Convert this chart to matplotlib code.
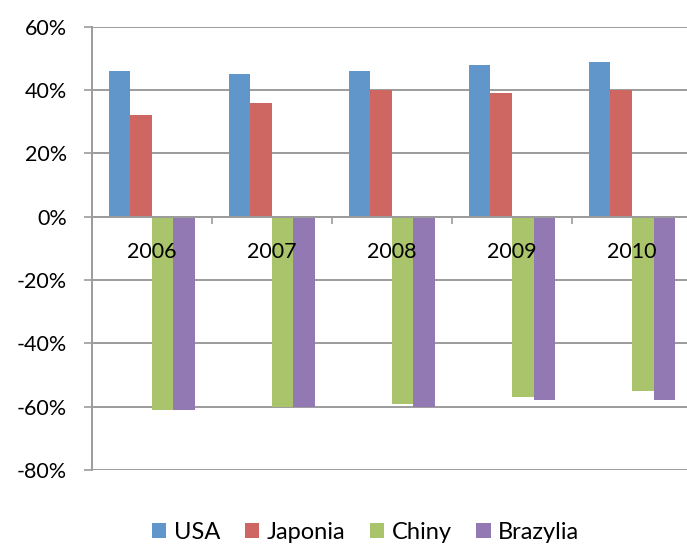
from matplotlib import pyplot as plt
from matplotlib.ticker import FixedLocator, PercentFormatter
import numpy as np

plt.rcParams['font.family'] = ['Lato', 'DejaVu Sans']
plt.rcParams['axes.unicode_minus'] = False

years = ["2006", "2007", "2008", "2009", "2010"]
usa = [46, 45, 46, 48, 49]
japonia = [32, 36, 40, 39, 40]
chiny = [-61, -60, -59, -57, -55]
brazylia = [-61, -60, -60, -58, -58]

series = [
    ("USA", usa, "#6096C9"),
    ("Japonia", japonia, "#CE6661"),
    ("Chiny", chiny, "#AAC46B"),
    ("Brazylia", brazylia, "#9279B3"),
]

GRID = "#9c9c9c"
W = 0.18
FS = 15.5

fig = plt.figure(figsize=(6.87, 5.45), dpi=100)
ax = fig.add_axes([0.1335, 0.1376, 0.8738, 0.8134])

x = np.arange(len(years))
for i, (name, vals, col) in enumerate(series):
    ax.bar(x + (i - 1.5) * W, vals, W, color=col, label=name, zorder=2)

ax.set_xlim(-0.5, len(years) - 0.5)
ax.set_ylim(-80, 60)
ax.set_yticks(np.arange(-80, 61, 20))
ax.yaxis.set_major_formatter(PercentFormatter(decimals=0))

# category boundaries get tick marks, centres get the year labels
ax.xaxis.set_major_locator(FixedLocator(np.arange(-0.5, len(years), 1.0)))
ax.xaxis.set_minor_locator(FixedLocator(x))
ax.set_xticklabels([])
ax.set_xticklabels(years, minor=True)
ax.tick_params(axis="x", which="major", length=5, width=1.2, color=GRID, direction="out")
ax.tick_params(axis="x", which="minor", length=0, pad=18, labelsize=FS)
ax.tick_params(axis="y", length=6, width=1.2, color=GRID, pad=12, labelsize=FS)

ax.grid(axis="y", color=GRID, linewidth=1.4, zorder=0)
ax.spines["bottom"].set_position(("data", 0))
ax.spines["bottom"].set_color(GRID)
ax.spines["bottom"].set_linewidth(1.4)
ax.spines["bottom"].set_zorder(3)
ax.spines["left"].set_color(GRID)
ax.spines["left"].set_linewidth(1.4)
ax.spines["top"].set_visible(False)
ax.spines["right"].set_visible(False)
ax.xaxis.set_zorder(4)

fig.legend(loc="lower center", bbox_to_anchor=(0.532, -0.035), ncol=4, frameon=False,
           fontsize=17, handlelength=0.62, handleheight=0.62, handletextpad=0.3,
           columnspacing=1.05)

fig.savefig("out.png", dpi=100)
